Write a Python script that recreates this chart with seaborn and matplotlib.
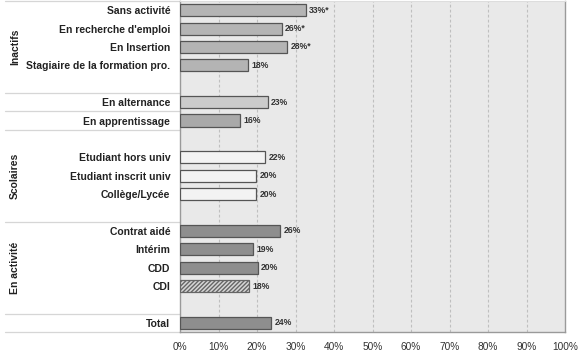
import matplotlib
matplotlib.use("Agg")
import matplotlib.pyplot as plt
import matplotlib.transforms as mtrans
import seaborn as sns
import pandas as pd

categories = ["Sans activité", "En recherche d'emploi", "En Insertion",
              "Stagiaire de la formation pro.", "En alternance", "En apprentissage",
              "Etudiant hors univ", "Etudiant inscrit univ", "Collège/Lycée",
              "Contrat aidé", "Intérim", "CDD", "CDI", "Total"]
values = [32.6, 26.4, 27.8, 17.6, 22.8, 15.6, 22.2, 19.7, 19.7, 26.0, 18.9, 20.2, 17.9, 23.6]
value_labels = ["33%*", "26%*", "28%*", "18%", "23%", "16%", "22%", "20%", "20%",
                "26%", "19%", "20%", "18%", "24%"]
row_order = ["Sans activité", "En recherche d'emploi", "En Insertion",
             "Stagiaire de la formation pro.", " ", "En alternance", "En apprentissage",
             "  ", "Etudiant hors univ", "Etudiant inscrit univ", "Collège/Lycée", "   ",
             "Contrat aidé", "Intérim", "CDD", "CDI", "    ", "Total"]
xticks = list(range(0, 101, 10))
group_labels = ["Inactifs", "Scolaires", "En activité"]
group_centers = [2, 9, 14]
separators = [-0.5, 4.5, 5.5, 6.5, 11.5, 16.5, 17.5]

bar_colors = {"Sans activité": "#b4b4b4", "En recherche d'emploi": "#b4b4b4",
              "En Insertion": "#b4b4b4", "Stagiaire de la formation pro.": "#b4b4b4",
              "En alternance": "#cbcbcb", "En apprentissage": "#a9a9a9",
              "Etudiant hors univ": "#f3f3f3", "Etudiant inscrit univ": "#f3f3f3",
              "Collège/Lycée": "#f3f3f3", "Contrat aidé": "#8e8e8e", "Intérim": "#8e8e8e",
              "CDD": "#8e8e8e", "CDI": "#d6d6d6", "Total": "#8e8e8e"}

df = pd.DataFrame({"cat": categories, "val": values})

sns.set_style("white")
plt.rcParams['font.family'] = ['Liberation Sans', 'DejaVu Sans']

fig = plt.figure(figsize=(5.82, 3.52), dpi=100)
ax = fig.add_axes([180 / 582, 1 - 332 / 352, 385 / 582, 331 / 352])
ax.set_facecolor("#e9e9e9")

sns.barplot(data=df, x="val", y="cat", order=row_order, orient="h",
            hue="cat", palette=bar_colors, hue_order=categories, legend=False,
            width=0.66, edgecolor="#555555", linewidth=0.9, ax=ax, zorder=3)

for p in ax.patches:
    p.set_zorder(3)

cdi_idx = row_order.index("CDI")
for p in ax.patches:
    if p.get_height() > 0 and abs(p.get_y() + p.get_height() / 2 - cdi_idx) < 0.1:
        p.set_hatch("////////")
        p.set_edgecolor("#666666")

ax.set_xlim(0, 100)
ax.set_ylim(17.5, -0.5)
ax.set_xticks(xticks)
ax.set_xticklabels([f"{t}%" for t in xticks], fontsize=7.3, color="#333333")
ax.tick_params(axis="x", length=0, pad=7)
ax.tick_params(axis="y", length=0, pad=7)
ax.set_yticks(range(len(row_order)))
ax.set_yticklabels([c.strip() for c in row_order], fontsize=7.5, fontweight="bold",
                   color="#222222")
ax.set_xlabel("")
ax.set_ylabel("")

for t in xticks[1:-1]:
    ax.axvline(t, color="#bfbfbf", linestyle=(0, (2.5, 2)), linewidth=0.8, zorder=1)

for s in ["left", "right", "bottom"]:
    ax.spines[s].set_visible(True)
    ax.spines[s].set_color("#9a9a9a")
    ax.spines[s].set_linewidth(1.0)
ax.spines["top"].set_visible(True)
ax.spines["top"].set_color("#dddddd")
ax.spines["top"].set_linewidth(0.8)

for cat, v, lab in zip(categories, values, value_labels):
    y = row_order.index(cat)
    ax.text(v + 0.9, y, lab, va="center", ha="left", fontsize=6.2,
            fontweight="bold", color="#333333", zorder=4)

trans = mtrans.blended_transform_factory(ax.transAxes, ax.transData)
for s in separators:
    ax.plot([-175 / 385, 0], [s, s], transform=trans, color="#d6d6d6",
            linewidth=0.9, clip_on=False, zorder=0)

for g, c in zip(group_labels, group_centers):
    ax.text(-165 / 385, c, g, transform=trans, rotation=90, ha="center", va="center",
            fontsize=7.5, fontweight="bold", color="#222222")

fig.savefig("out.png", dpi=100)
